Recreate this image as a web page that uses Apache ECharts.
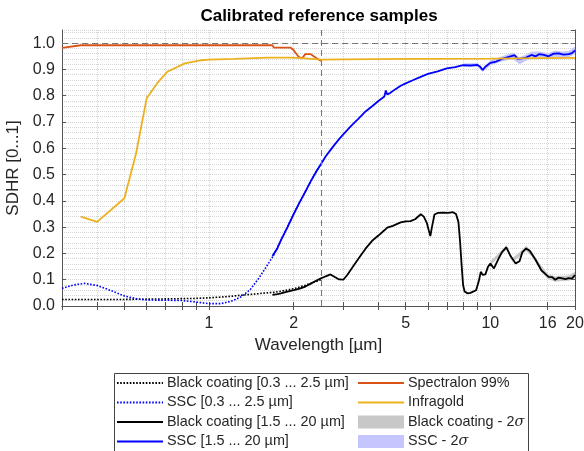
<!DOCTYPE html>
<html>
<head>
<meta charset="utf-8">
<script src="https://cdn.jsdelivr.net/npm/echarts@6/dist/echarts.min.js"></script>
<style>
html,body{margin:0;padding:0;background:#fff;}
#c{width:584px;height:451px;}
</style>
</head>
<body>
<div id="c"></div>
<script>
// ---------- data ----------
const xLabelValues = [1, 2, 5, 10, 16, 20];
const xTickValues = [0.3,0.4,0.5,0.6,0.7,0.8,0.9,1,2,3,4,5,6,7,8,9,10,16,20];

const wlBlackVis = [0.3,0.35,0.4,0.5,0.6,0.7,0.8,0.9,1.0,1.1,1.2,1.3,1.4,1.5,1.6,1.7,1.8,1.9,2.0,2.1,2.2,2.3,2.4,2.5];
const blackVis   = [0.025,0.025,0.025,0.025,0.026,0.027,0.028,0.029,0.031,0.034,0.037,0.041,0.044,0.047,0.050,0.052,0.056,0.061,0.066,0.072,0.079,0.086,0.093,0.100];

const wlSscVis = [0.3,0.33,0.36,0.4,0.45,0.5,0.55,0.6,0.7,0.8,0.9,1.0,1.1,1.2,1.3,1.4,1.5,1.6,1.7,1.8,1.9,2.0,2.1,2.2,2.3,2.4,2.5];
const sscVis   = [0.067,0.080,0.086,0.078,0.058,0.038,0.028,0.023,0.022,0.021,0.015,0.009,0.009,0.018,0.035,0.062,0.105,0.150,0.195,0.250,0.300,0.350,0.395,0.435,0.475,0.510,0.540];

const wlBlackIR = [1.68,1.75,1.8,1.9,2.0,2.1,2.2,2.3,2.4,2.5,2.6,2.7,2.8,2.9,3.0,3.1,3.2,3.4,3.6,3.8,4.0,4.2,4.3,4.5,4.8,5.0,5.2,5.4,5.66,5.8,5.95,6.05,6.12,6.2,6.33,6.5,6.8,7.1,7.36,7.55,7.7,7.8,7.9,8.0,8.1,8.3,8.5,8.9,9.1,9.25,9.4,9.6,9.8,10.0,10.3,10.7,11.0,11.4,11.8,12.3,12.7,13.0,13.4,13.8,14.5,15.2,16.1,16.6,17.0,17.5,18.0,18.5,19.0,19.5,20];
const blackIR   = [0.042,0.045,0.048,0.055,0.060,0.066,0.074,0.085,0.096,0.105,0.113,0.120,0.110,0.101,0.100,0.118,0.140,0.181,0.218,0.248,0.268,0.288,0.298,0.305,0.318,0.322,0.323,0.330,0.349,0.340,0.315,0.285,0.266,0.300,0.348,0.354,0.355,0.354,0.357,0.350,0.320,0.250,0.160,0.080,0.055,0.048,0.050,0.060,0.095,0.130,0.118,0.120,0.148,0.162,0.143,0.180,0.205,0.223,0.190,0.162,0.170,0.205,0.219,0.210,0.175,0.135,0.111,0.110,0.100,0.108,0.105,0.102,0.106,0.104,0.118];

const wlSscIR = [1.68,1.75,1.8,1.9,2.0,2.1,2.2,2.3,2.4,2.5,2.6,2.7,2.8,2.9,3.0,3.2,3.4,3.6,3.8,4.0,4.2,4.25,4.3,4.4,4.6,4.8,5.0,5.3,5.6,6.0,6.5,7.0,7.5,8.0,8.5,9.0,9.2,9.4,9.6,10.0,10.5,11.0,11.4,11.8,12.2,12.5,12.7,13.0,13.4,14.0,14.5,14.9,15.5,16.1,16.8,17.5,18.2,19.0,19.5,20];
const sscIR   = [0.19,0.22,0.25,0.30,0.35,0.395,0.435,0.475,0.51,0.54,0.57,0.593,0.615,0.635,0.653,0.685,0.713,0.74,0.76,0.78,0.797,0.82,0.805,0.81,0.825,0.838,0.847,0.859,0.87,0.883,0.893,0.904,0.909,0.916,0.915,0.917,0.91,0.898,0.91,0.925,0.93,0.94,0.945,0.95,0.954,0.94,0.933,0.942,0.945,0.955,0.95,0.958,0.955,0.95,0.96,0.961,0.956,0.958,0.962,0.972];

const wlSpectralon = [0.3,0.35,0.4,0.5,0.7,1.0,1.3,1.6,1.68,1.7,1.9,1.95,2.0,2.08,2.14,2.2,2.23,2.3,2.32,2.42,2.5];
const spectralon   = [0.982,0.992,0.992,0.992,0.992,0.992,0.992,0.992,0.992,0.983,0.983,0.983,0.973,0.948,0.942,0.958,0.963,0.958,0.954,0.942,0.932];

const wlInfragold = [0.35,0.4,0.5,0.55,0.6,0.66,0.71,0.82,0.94,1.0,1.23,1.61,1.95,2.2,2.5,3,5,10,20];
const infragold   = [0.34,0.32,0.41,0.58,0.79,0.853,0.891,0.923,0.935,0.937,0.940,0.945,0.945,0.942,0.937,0.938,0.940,0.941,0.944];

const wlBlackBand = [10,11,11.4,12,13,13.4,14,15,16,17,18,19,20];
const blackLo     = [0.155,0.197,0.214,0.167,0.196,0.209,0.190,0.140,0.103,0.092,0.095,0.096,0.106];
const blackHi     = [0.169,0.213,0.232,0.183,0.214,0.229,0.210,0.160,0.123,0.112,0.115,0.116,0.130];

const wlSscBand = [8,9,9.4,10,11,12,12.7,13.4,14,15,16,17,18,19,20];
const sscLo     = [0.909,0.910,0.890,0.916,0.930,0.940,0.920,0.933,0.943,0.944,0.938,0.948,0.944,0.946,0.958];
const sscHi     = [0.923,0.924,0.906,0.934,0.950,0.964,0.946,0.957,0.967,0.968,0.962,0.972,0.968,0.970,0.986];

// ---------- chart ----------
const FONT = 'Liberation Sans, Arial, Helvetica, sans-serif';
const TXT = '#262626';
const AX = '#555555';
const GRIDC = '#d4d4d4';
const LW = 1.8;
const pairs = (xs, ys) => xs.map((x, i) => [x, ys[i]]);

function bandRenderer(xs, lo, hi, fill) {
  return function (params, api) {
    const top = xs.map((x, i) => api.coord([x, hi[i]]));
    const bot = xs.map((x, i) => api.coord([x, lo[i]])).reverse();
    return { type: 'polygon', shape: { points: top.concat(bot) }, style: { fill: fill } };
  };
}

const names = {
  bVis: 'Black coating [0.3 ... 2.5 µm]',
  sVis: 'SSC [0.3 ... 2.5 µm]',
  bIR: 'Black coating [1.5 ... 20 µm]',
  sIR: 'SSC [1.5 ... 20 µm]',
  spec: 'Spectralon 99%',
  gold: 'Infragold',
  bBand: 'Black coating - 2σ',
  sBand: 'SSC - 2σ'
};

const lineItem = n => ({ name: n, itemStyle: { opacity: 0 } });

const legendCommon = {
  orient: 'vertical',
  itemWidth: 46,
  itemHeight: 13,
  itemGap: 5.5,
  padding: 0,
  selectedMode: false,
  textStyle: {
    fontFamily: FONT, fontSize: 14.4, color: TXT, padding: [0, 0, 0, -1],
    rich: { i: { fontFamily: 'DejaVu Serif, serif', fontStyle: 'italic', fontSize: 14.4, color: TXT } }
  },
  formatter: n => n.replace('σ', '{i|σ}')
};

const chart = echarts.init(document.getElementById('c'), null, { renderer: 'canvas' });
chart.setOption({
  animation: false,
  backgroundColor: '#fff',
  title: {
    text: 'Calibrated reference samples',
    left: 314, top: 3, textAlign: 'center',
    textStyle: { fontFamily: FONT, fontSize: 17, fontWeight: 'bold', color: '#000' }
  },
  grid: { left: 62, right: 9, top: 30, bottom: 145, containLabel: false, outerBoundsMode: 'none' },
  legend: [
    Object.assign({}, legendCommon, { left: 116, top: 376,
      data: [lineItem(names.bVis), lineItem(names.sVis), lineItem(names.bIR), lineItem(names.sIR)] }),
    Object.assign({}, legendCommon, { left: 357, top: 376, data: [
      lineItem(names.spec), lineItem(names.gold),
      { name: names.bBand, icon: 'rect', itemStyle: { color: '#c8c8c8' } },
      { name: names.sBand, icon: 'rect', itemStyle: { color: '#c6c6ff' } }
    ] })
  ],
  graphic: [{
    type: 'rect', left: 112, top: 371, silent: true,
    shape: { width: 414, height: 78 },
    style: { fill: null, stroke: '#444', lineWidth: 1 }
  }],
  xAxis: [{
    type: 'log', logBase: 10, min: 0.3, max: 20, position: 'bottom',
    name: 'Wavelength [µm]', nameLocation: 'middle', nameGap: 27,
    nameTextStyle: { fontFamily: FONT, fontSize: 17, color: TXT },
    axisLine: { show: true, lineStyle: { color: AX, width: 1 } },
    axisTick: { show: true, inside: true, length: 4, customValues: xTickValues, lineStyle: { color: AX } },
    axisLabel: { customValues: xLabelValues, margin: 10, fontFamily: FONT, fontSize: 16, color: TXT, formatter: v => String(Math.round(v)) },
    splitLine: { show: true, lineStyle: { type: 'dotted', color: GRIDC, width: 1 } }
  }, {
    type: 'log', logBase: 10, min: 0.3, max: 20, position: 'top',
    axisLine: { show: true, lineStyle: { color: AX, width: 1 } },
    axisTick: { show: true, inside: true, length: 4, customValues: xTickValues, lineStyle: { color: AX } },
    axisLabel: { show: false },
    splitLine: { show: false }
  }],
  yAxis: [{
    type: 'value', min: 0, max: 1.05, interval: 0.1, position: 'left',
    name: 'SDHR [0...1]', nameLocation: 'middle', nameGap: 35,
    nameTextStyle: { fontFamily: FONT, fontSize: 17, color: TXT },
    axisLine: { show: true, lineStyle: { color: AX, width: 1 } },
    axisTick: { show: true, inside: true, length: 4, lineStyle: { color: AX } },
    axisLabel: { showMaxLabel: false, margin: 7, fontFamily: FONT, fontSize: 16, color: TXT, formatter: v => v.toFixed(1) },
    splitLine: { show: true, lineStyle: { type: 'dotted', color: GRIDC, width: 1 } },
    minorTick: { show: false, splitNumber: 5 },
    minorSplitLine: { show: true, lineStyle: { type: 'dotted', color: GRIDC, width: 1 } }
  }, {
    type: 'value', min: 0, max: 1.05, interval: 0.1, position: 'right',
    axisLine: { show: true, lineStyle: { color: AX, width: 1 } },
    axisTick: { show: true, inside: true, length: 4, lineStyle: { color: AX } },
    axisLabel: { show: false },
    splitLine: { show: false }
  }],
  series: [
    { name: names.bBand, type: 'custom', xAxisIndex: 0, yAxisIndex: 0, silent: true, z: 1,
      itemStyle: { color: '#c8c8c8' },
      data: [[1, 0.5]], renderItem: bandRenderer(wlBlackBand, blackLo, blackHi, '#c8c8c8') },
    { name: names.sBand, type: 'custom', xAxisIndex: 0, yAxisIndex: 0, silent: true, z: 1,
      itemStyle: { color: '#c6c6ff' },
      data: [[1, 0.5]], renderItem: bandRenderer(wlSscBand, sscLo, sscHi, '#c6c6ff') },
    { name: names.bVis, type: 'line', symbol: 'none', z: 3,
      lineStyle: { color: '#000', width: 1.6, type: [1.6, 1.6] }, itemStyle: { color: '#000' },
      data: pairs(wlBlackVis, blackVis) },
    { name: names.sVis, type: 'line', symbol: 'none', z: 3,
      lineStyle: { color: '#0000ff', width: 1.6, type: [1.6, 1.6] }, itemStyle: { color: '#0000ff' },
      data: pairs(wlSscVis, sscVis) },
    { name: names.bIR, type: 'line', symbol: 'none', z: 4,
      lineStyle: { color: '#000', width: LW }, itemStyle: { color: '#000' },
      data: pairs(wlBlackIR, blackIR) },
    { name: names.sIR, type: 'line', symbol: 'none', z: 4,
      lineStyle: { color: '#0000ff', width: LW }, itemStyle: { color: '#0000ff' },
      data: pairs(wlSscIR, sscIR) },
    { name: names.spec, type: 'line', symbol: 'none', z: 5,
      lineStyle: { color: '#D95319', width: LW }, itemStyle: { color: '#D95319' },
      data: pairs(wlSpectralon, spectralon) },
    { name: names.gold, type: 'line', symbol: 'none', z: 5,
      lineStyle: { color: '#EDB120', width: LW }, itemStyle: { color: '#EDB120' },
      data: pairs(wlInfragold, infragold),
      markLine: {
        silent: true, symbol: ['none', 'none'], label: { show: false },
        lineStyle: { color: '#777', width: 1, type: [6, 4] },
        data: [{ yAxis: 1.0 }, { xAxis: 2.5 }]
      } }
  ]
});
</script>
</body>
</html>
